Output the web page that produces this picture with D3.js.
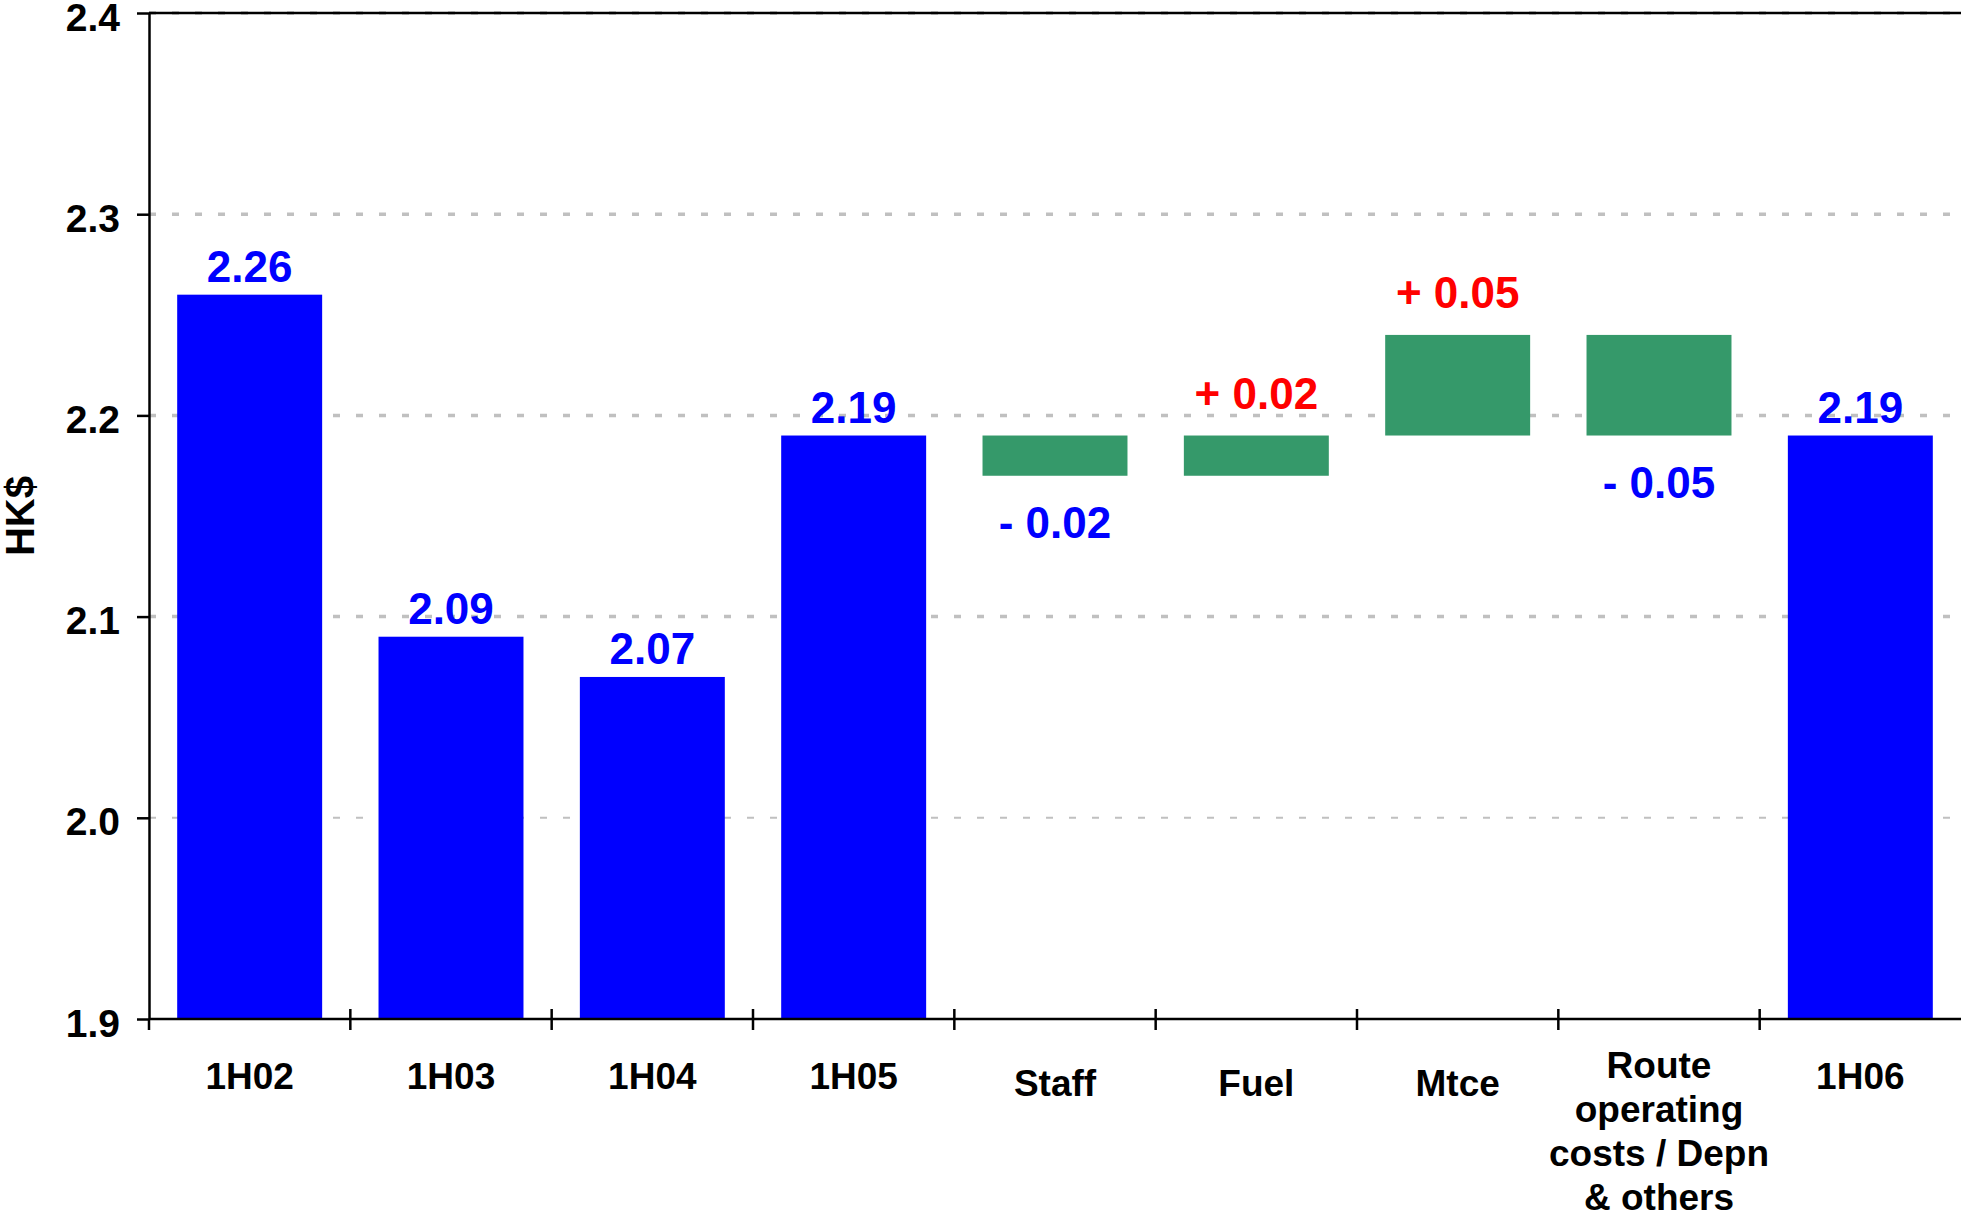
<!DOCTYPE html>
<html>
<head>
<meta charset="utf-8">
<script src="https://cdn.jsdelivr.net/npm/d3@7.9.0/dist/d3.min.js"></script>
<style>
  html, body { margin: 0; padding: 0; background: #fff; }
  svg { display: block; font-family: "Liberation Sans", Arial, sans-serif; font-weight: bold; }
</style>
</head>
<body>
<svg id="chart" width="1961" height="1210"></svg>
<script>
// categories on the x axis (one entry per line of the label)
const categoryLines = [
  ['1H02'], ['1H03'], ['1H04'], ['1H05'],
  ['Staff'], ['Fuel'], ['Mtce'],
  ['Route', 'operating', 'costs / Depn', '& others'],
  ['1H06']
];
// full bars (null = bridge step)
const totals  = [2.26, 2.09, 2.07, 2.19, null, null, null, null, 2.19];
// bridge steps from 1H05 to 1H06
const changes = [null, null, null, null, -0.02, 0.02, 0.05, -0.05, null];
const yTicks = [1.9, 2.0, 2.1, 2.2, 2.3, 2.4];

const W = 1961, H = 1210;
const margin = { left: 149, right: 0, top: 13, bottom: 191 };

const svg = d3.select('#chart');

// build bar data: totals sit on the axis, changes float
let running = 0;
const bars = categoryLines.map((lines, i) => {
  if (totals[i] !== null) {
    running = totals[i];
    return { i, kind: 'total', lo: 1.9, hi: totals[i], value: totals[i] };
  }
  const start = running;
  running = +(running + changes[i]).toFixed(4);
  return { i, kind: 'step', lo: Math.min(start, running), hi: Math.max(start, running), value: changes[i] };
});

const x = d3.scaleBand()
  .domain(d3.range(categoryLines.length))
  .range([margin.left, W - margin.right])
  .paddingInner(0.28)
  .paddingOuter(0.14);

const y = d3.scaleLinear()
  .domain([1.9, 2.4])
  .range([H - margin.bottom, margin.top]);

const y0 = y(1.9);

// gridlines
svg.append('g')
  .selectAll('line')
  .data(yTicks.filter(d => d > 1.9))
  .join('line')
  .attr('x1', margin.left).attr('x2', W)
  .attr('y1', d => y(d)).attr('y2', d => y(d))
  .attr('stroke', '#c0c0c0')
  .attr('stroke-width', d => d === 2.0 ? 2 : 3.5)
  .attr('stroke-dasharray', '7 16');

// top border
svg.append('line')
  .attr('x1', margin.left).attr('x2', W)
  .attr('y1', y(2.4)).attr('y2', y(2.4))
  .attr('stroke', '#000').attr('stroke-width', 2.5);

// bars
svg.append('g')
  .selectAll('rect')
  .data(bars)
  .join('rect')
  .attr('x', d => x(d.i))
  .attr('width', x.bandwidth())
  .attr('y', d => y(d.hi))
  .attr('height', d => y(d.lo) - y(d.hi))
  .attr('fill', d => d.kind === 'total' ? '#0000ff' : '#35996a');

// value labels
const fmt = d3.format('.2f');
svg.append('g')
  .selectAll('text')
  .data(bars)
  .join('text')
  .attr('x', d => x(d.i) + x.bandwidth() / 2)
  .attr('y', d => {
    if (d.kind === 'total') return y(d.hi) - 13;
    if (d.value > 0) return y(d.hi) - 27;
    return y(d.lo) + 62;
  })
  .attr('text-anchor', 'middle')
  .attr('font-size', 44)
  .attr('fill', d => (d.kind === 'step' && d.value > 0) ? '#ff0000' : '#0000ff')
  .text(d => d.kind === 'total' ? fmt(d.value)
    : (d.value < 0 ? '- ' : '+ ') + fmt(Math.abs(d.value)));

// y axis
const yAxis = svg.append('g')
  .attr('transform', `translate(${margin.left},0)`)
  .call(d3.axisLeft(y).tickValues(yTicks).tickSize(12).tickSizeOuter(0).tickPadding(17)
    .tickFormat(d3.format('.1f')));
yAxis.select('.domain').attr('stroke', '#000').attr('stroke-width', 2.5);
yAxis.selectAll('.tick line').attr('stroke', '#000').attr('stroke-width', 2.5);
yAxis.selectAll('.tick text')
  .attr('font-size', 39).attr('font-weight', 'bold').attr('fill', '#000')
  .attr('font-family', '"Liberation Sans", Arial, sans-serif')
  .attr('dy', '0.44em');

// x axis line + boundary ticks
svg.append('line')
  .attr('x1', margin.left).attr('x2', W)
  .attr('y1', y0).attr('y2', y0)
  .attr('stroke', '#000').attr('stroke-width', 2.5);

const half = x.step() * x.paddingInner() / 2;
svg.append('g')
  .selectAll('line')
  .data(x.domain())
  .join('line')
  .attr('x1', d => x(d) - half).attr('x2', d => x(d) - half)
  .attr('y1', (d, i) => i === 0 ? y0 : y0 - 10)
  .attr('y2', y0 + 11)
  .attr('stroke', '#000').attr('stroke-width', 2.5);

// category labels
const cat = svg.append('g')
  .selectAll('text')
  .data(bars)
  .join('text')
  .attr('text-anchor', 'middle')
  .attr('font-size', 37)
  .attr('fill', '#000')
  .attr('y', d => {
    const n = categoryLines[d.i].length;
    return d.kind === 'total' ? y0 + 70 : y0 + 77 - (n - 1) * 6;
  });
cat.each(function (d) {
  const t = d3.select(this);
  const cx = x(d.i) + x.bandwidth() / 2;
  categoryLines[d.i].forEach((line, k) => {
    t.append('tspan').attr('x', cx).attr('dy', k === 0 ? 0 : 44).text(line);
  });
});

// y axis title
svg.append('text')
  .attr('transform', `translate(34,${(y(2.4) + y0) / 2}) rotate(-90)`)
  .attr('text-anchor', 'middle')
  .attr('font-size', 40)
  .attr('fill', '#000')
  .text('HK$');
</script>
</body>
</html>
